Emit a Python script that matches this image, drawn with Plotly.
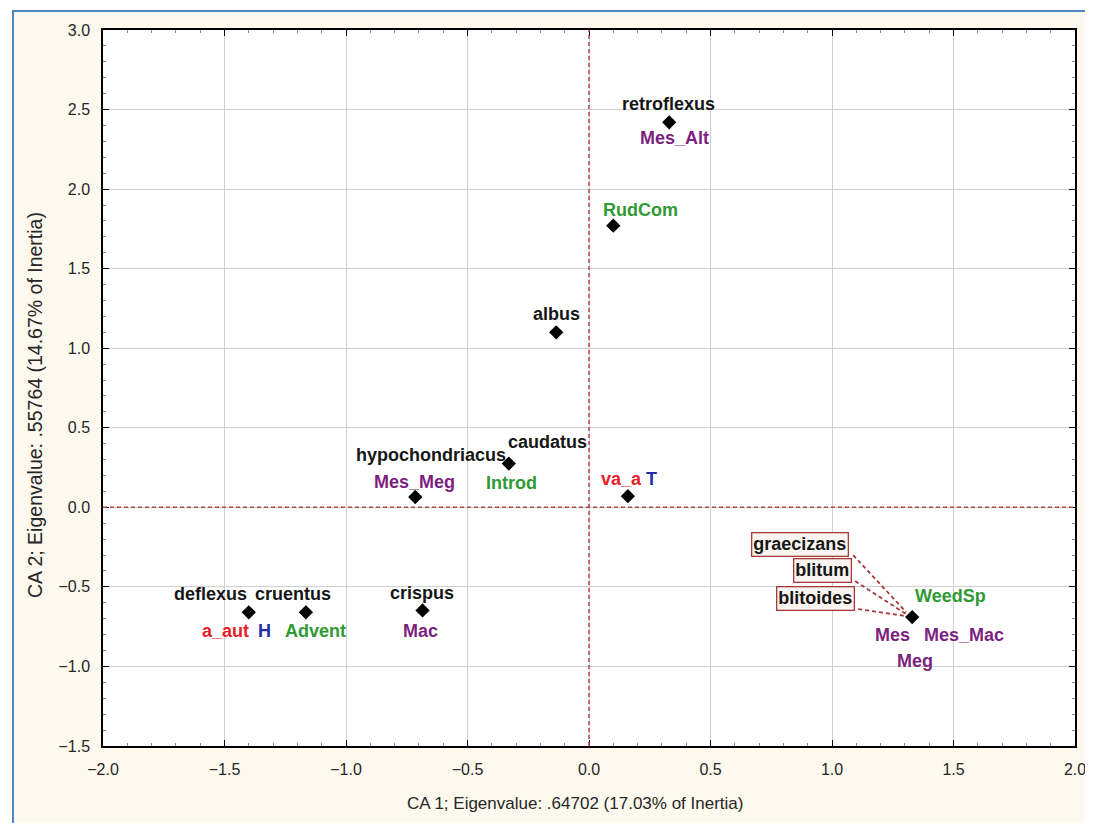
import plotly.graph_objects as go

# ---------------- data ----------------
point_x = [0.33, 0.10, -0.135, -0.33, -0.715, 0.16, -1.40, -1.165, -0.685, 1.33]
point_y = [2.42, 1.77, 1.10, 0.275, 0.065, 0.07, -0.66, -0.66, -0.648, -0.69]

# species labels (black) -> point index
species = ["retroflexus", "albus", "caudatus", "hypochondriacus", "deflexus",
           "cruentus", "crispus", "graecizans", "blitum", "blitoides"]
species_pt = [0, 2, 3, 3, 6, 7, 8, 9, 9, 9]

# trait labels (coloured) -> point index, colour class
traits = ["Mes_Alt", "RudCom", "Introd", "Mes_Meg", "va_a", "T", "a_aut", "H",
          "Advent", "Mac", "WeedSp", "Mes", "Mes_Mac", "Meg"]
traits_pt = [0, 1, 3, 4, 5, 5, 6, 6, 7, 8, 9, 9, 9, 9]
traits_cls = ["purple", "green", "green", "purple", "red", "blue", "red", "blue",
              "green", "purple", "green", "purple", "purple", "purple"]

x_title = "CA 1; Eigenvalue: .64702 (17.03% of Inertia)"
y_title = "CA 2; Eigenvalue: .55764 (14.67% of Inertia)"

# ---------------- styling / layout positions ----------------
COLORS = {"black": "#161616", "purple": "#7d1f80", "green": "#2f9a33",
          "red": "#e5202a", "blue": "#1f2fa8"}

# pixel offsets of label centres from their point (dx right, dy down)
offsets = {
    "retroflexus": (-1, -18), "albus": (0, -18), "caudatus": (39, -22),
    "hypochondriacus": (-78, -9), "deflexus": (-38, -18), "cruentus": (-13, -18),
    "crispus": (-1, -17), "graecizans": (-112, -73), "blitum": (-90, -47),
    "blitoides": (-97, -19),
    "Mes_Alt": (5, 16), "RudCom": (27, -16), "Introd": (3, 19), "Mes_Meg": (-1, -15),
    "va_a": (-6, -17), "T": (24, -17), "a_aut": (-23, 19), "H": (16, 19),
    "Advent": (10, 19), "Mac": (-2, 21), "WeedSp": (38, -21), "Mes": (-20, 18),
    "Mes_Mac": (52, 18), "Meg": (3, 44),
}
boxed = {"graecizans", "blitum", "blitoides"}
# leader lines (pixel offsets from point: start, end; dy up positive)
leaders = {"graecizans": ((-59, 62), (-6, 5)),
           "blitum": ((-57, 36), (-6, 3)),
           "blitoides": ((-54, 8), (-6, 1))}

OFF = 8  # default page body margin
W, H = 1093 - OFF, 823 - OFF
L, R, T, B = 103 - OFF, 1075 - OFF, 30 - OFF, 746 - OFF
PW, PH = R - L, B - T


def pxx(x):  # reference page pixel -> paper coordinate
    return (x - OFF - L) / PW


def pxy(y):
    return (B - (y - OFF)) / PH


FAM = "Liberation Sans, Arial, sans-serif"
LABEL_FONT = dict(family=FAM, size=18, weight="bold")
TICK_FONT = dict(family=FAM, size=16, color="#262626")

fig = go.Figure()
fig.add_trace(go.Scatter(
    x=point_x, y=point_y, mode="markers",
    marker=dict(symbol="diamond", size=11, color="#000000"),
    hoverinfo="skip", showlegend=False,
))

annotations = []


def add_label(text, idx, color, box=False):
    dx, dy = offsets[text]
    a = dict(x=point_x[idx], y=point_y[idx], xref="x", yref="y",
             text=text, showarrow=True, arrowcolor="rgba(0,0,0,0)", arrowwidth=0.1,
             ax=dx, ay=dy, font=dict(LABEL_FONT, color=color),
             xanchor="center", yanchor="middle")
    if box:
        a.update(bordercolor="#a83a3a", borderwidth=1.3, bgcolor="#faf5f0", borderpad=1)
    annotations.append(a)


for s, i in zip(species, species_pt):
    add_label(s, i, COLORS["black"], box=s in boxed)
for t, i, c in zip(traits, traits_pt, traits_cls):
    add_label(t, i, COLORS[c])

# axis titles
annotations.append(dict(text=x_title, xref="paper", yref="paper", x=pxx(575), y=pxy(803),
                        showarrow=False, xanchor="center", yanchor="middle",
                        font=dict(TICK_FONT, size=17)))
annotations.append(dict(text=y_title, xref="paper", yref="paper", x=pxx(35), y=pxy(405),
                        showarrow=False, xanchor="center", yanchor="middle", textangle=-90,
                        font=dict(TICK_FONT, size=19.5)))

shapes = []
# page frame: white outside, cream inside, blue border top/left
shapes.append(dict(type="rect", xref="paper", yref="paper", x0=pxx(0), x1=pxx(13),
                   y0=pxy(830), y1=pxy(0), fillcolor="#ffffff", line=dict(width=0)))
shapes.append(dict(type="rect", xref="paper", yref="paper", x0=pxx(0), x1=pxx(1100),
                   y0=pxy(11), y1=pxy(0), fillcolor="#ffffff", line=dict(width=0)))
shapes.append(dict(type="line", xref="paper", yref="paper", x0=pxx(13), x1=pxx(13),
                   y0=pxy(10), y1=pxy(830), line=dict(color="#4d87bf", width=2)))
shapes.append(dict(type="line", xref="paper", yref="paper", x0=pxx(12), x1=pxx(1100),
                   y0=pxy(11), y1=pxy(11), line=dict(color="#4d87bf", width=2)))
# reference lines at 0
shapes.append(dict(type="line", xref="x", yref="paper", x0=0, x1=0, y0=0, y1=1,
                   line=dict(color="#b54545", width=1.5, dash="4px,3px"), layer="above"))
shapes.append(dict(type="line", xref="paper", yref="y", x0=0, x1=1, y0=0, y1=0,
                   line=dict(color="#b54545", width=1.5, dash="4px,3px"), layer="above"))
# leader lines
for name, ((x0, y0), (x1, y1)) in leaders.items():
    i = species_pt[species.index(name)]
    shapes.append(dict(type="line", xref="x", yref="y",
                       xsizemode="pixel", ysizemode="pixel",
                       xanchor=point_x[i], yanchor=point_y[i],
                       x0=x0, x1=x1, y0=y0, y1=y1,
                       line=dict(color="#a53838", width=1.8, dash="4px,3px")))

axis_common = dict(
    showline=True, linecolor="#000000", linewidth=1.5, mirror="allticks",
    ticks="inside", ticklen=6, tickcolor="#000000", tickwidth=1.2,
    showgrid=True, gridcolor="#d0d0d0", gridwidth=1, zeroline=False,
    tickfont=TICK_FONT, tickformat=".1f", dtick=0.5,
    minor=dict(ticks="inside", ticklen=3, dtick=0.1, tickcolor="#888888", showgrid=False),
)

fig.update_layout(
    width=W, height=H,
    margin=dict(l=L, r=W - R, t=T, b=H - B, autoexpand=False),
    paper_bgcolor="#fdf9ee", plot_bgcolor="#ffffff",
    xaxis=dict(axis_common, range=[-2, 2], tick0=-2, ticklabelstandoff=8),
    yaxis=dict(axis_common, range=[-1.5, 3], tick0=-1.5, ticklabelstandoff=8),
    annotations=annotations, shapes=shapes,
)

fig.write_html("out.html")
